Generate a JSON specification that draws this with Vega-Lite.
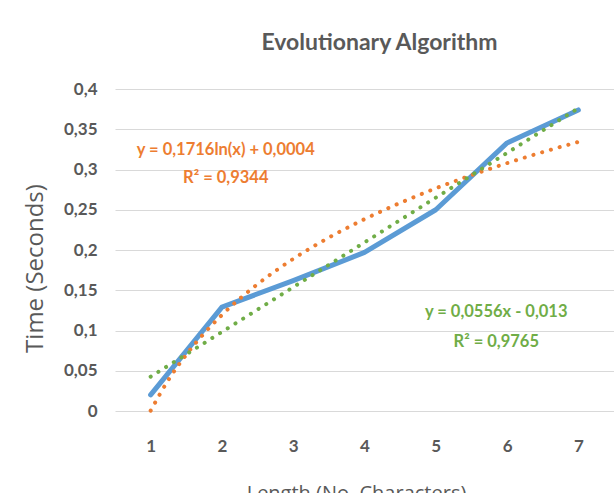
{
  "$schema": "https://vega.github.io/schema/vega-lite/v6.json",
  "width": 499,
  "height": 322,
  "autosize": "none",
  "padding": {"left": 115, "top": 89, "right": 0, "bottom": 82},
  "background": "white",
  "config": {
    "view": {"stroke": null},
    "font": "Lato",
    "axis": {"labelColor": "#595959", "titleColor": "#595959"}
  },
  "title": {
    "text": "Evolutionary Algorithm",
    "font": "Lato",
    "fontSize": 23,
    "fontWeight": "bold",
    "color": "#595959",
    "anchor": "middle",
    "frame": "group",
    "baseline": "alphabetic",
    "offset": 7,
    "dx": 15
  },
  "layer": [
    {
      "data": {"values": [
        {"length": 1, "time": 0.02},
        {"length": 2, "time": 0.129},
        {"length": 3, "time": 0.162},
        {"length": 4, "time": 0.197},
        {"length": 5, "time": 0.25},
        {"length": 6, "time": 0.333},
        {"length": 7, "time": 0.374}
      ]},
      "mark": {"type": "line", "color": "#5B9BD5", "strokeWidth": 5, "strokeCap": "round", "strokeJoin": "round"},
      "encoding": {
        "x": {
          "field": "length", "type": "quantitative",
          "scale": {"domain": [0.5, 7.5], "nice": false, "zero": false},
          "axis": {
            "values": [1, 2, 3, 4, 5, 6, 7],
            "format": "d",
            "grid": false, "ticks": false, "domain": false,
            "labelFontSize": 17, "labelFontWeight": "bold", "labelPadding": 27,
            "title": "Length (No. Characters)",
            "titleFont": "Open Sans", "titleFontSize": 20, "titleFontWeight": "normal",
            "titleX": 241, "titleY": 72, "titleAnchor": "middle", "titleAlign": "center", "titleBaseline": "top"
          }
        },
        "y": {
          "field": "time", "type": "quantitative",
          "scale": {"domain": [0, 0.4], "nice": false},
          "axis": {
            "values": [0, 0.05, 0.1, 0.15, 0.2, 0.25, 0.3, 0.35, 0.4],
            "format": ".2~f",
            "labelExpr": "replace(datum.label, '.', ',')",
            "grid": true, "gridColor": "#D9D9D9", "gridWidth": 1.2,
            "ticks": false, "domain": false,
            "labelFontSize": 17, "labelFontWeight": "bold", "labelPadding": 18,
            "title": "Time (Seconds)",
            "titleFont": "Open Sans", "titleFontSize": 24, "titleFontWeight": "normal",
            "titleAngle": -90, "titleX": -80, "titleY": 179, "titleAlign": "center", "titleBaseline": "middle"
          }
        }
      }
    },
    {
      "data": {"values": [
        {"length": 1, "time": 0.0004},
        {"length": 1.25, "time": 0.0387},
        {"length": 1.5, "time": 0.07},
        {"length": 1.75, "time": 0.0964},
        {"length": 2, "time": 0.1193},
        {"length": 2.5, "time": 0.1576},
        {"length": 3, "time": 0.1889},
        {"length": 3.5, "time": 0.2154},
        {"length": 4, "time": 0.2383},
        {"length": 4.5, "time": 0.2585},
        {"length": 5, "time": 0.2766},
        {"length": 5.5, "time": 0.2929},
        {"length": 6, "time": 0.3079},
        {"length": 6.5, "time": 0.3216},
        {"length": 7, "time": 0.3343}
      ]},
      "mark": {"type": "line", "color": "#ED7D31", "strokeWidth": 4, "strokeCap": "round", "strokeDash": [0.1, 9], "interpolate": "monotone"},
      "encoding": {
        "x": {"field": "length", "type": "quantitative"},
        "y": {"field": "time", "type": "quantitative"}
      }
    },
    {
      "data": {"values": [
        {"length": 1, "time": 0.0426},
        {"length": 7, "time": 0.3762}
      ]},
      "mark": {"type": "line", "color": "#70AD47", "strokeWidth": 4, "strokeCap": "round", "strokeDash": [0.1, 9]},
      "encoding": {
        "x": {"field": "length", "type": "quantitative"},
        "y": {"field": "time", "type": "quantitative"}
      }
    },
    {
      "data": {"values": [{"t": "y = 0,1716ln(x) + 0,0004"}]},
      "mark": {"type": "text", "color": "#ED7D31", "fontSize": 16.5, "fontWeight": "bold", "align": "center", "baseline": "middle"},
      "encoding": {"x": {"datum": 2.054}, "y": {"datum": 0.3242}, "text": {"field": "t"}}
    },
    {
      "data": {"values": [{"t": "R² = 0,9344"}]},
      "mark": {"type": "text", "color": "#ED7D31", "fontSize": 16.5, "fontWeight": "bold", "align": "center", "baseline": "middle"},
      "encoding": {"x": {"datum": 2.054}, "y": {"datum": 0.2894}, "text": {"field": "t"}}
    },
    {
      "data": {"values": [{"t": "y = 0,0556x - 0,013"}]},
      "mark": {"type": "text", "color": "#70AD47", "fontSize": 16.5, "fontWeight": "bold", "align": "center", "baseline": "middle"},
      "encoding": {"x": {"datum": 5.848}, "y": {"datum": 0.123}, "text": {"field": "t"}}
    },
    {
      "data": {"values": [{"t": "R² = 0,9765"}]},
      "mark": {"type": "text", "color": "#70AD47", "fontSize": 16.5, "fontWeight": "bold", "align": "center", "baseline": "middle"},
      "encoding": {"x": {"datum": 5.848}, "y": {"datum": 0.0857}, "text": {"field": "t"}}
    }
  ]
}
